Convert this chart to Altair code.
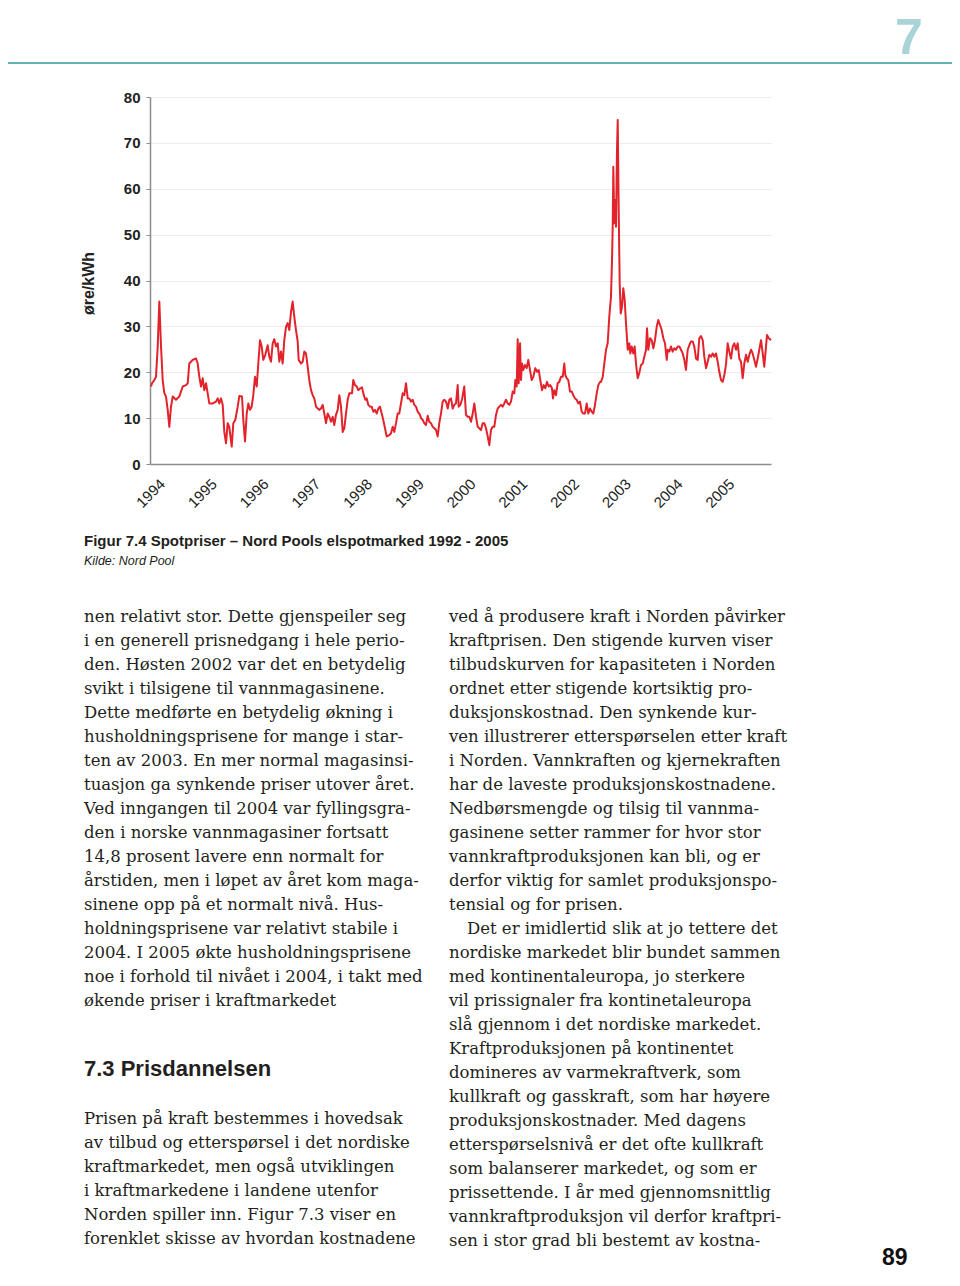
import altair as alt
import pandas as pd

# ---- data (weekly spot price, øre/kWh) ----
years = [
    1994.019, 1994.039, 1994.083, 1994.116, 1994.149, 1994.180, 1994.213, 1994.245, 1994.276, 1994.309,
    1994.342, 1994.373, 1994.406, 1994.439, 1994.502, 1994.566, 1994.632, 1994.696, 1994.729, 1994.759,
    1994.792, 1994.825, 1994.889, 1994.922, 1994.953, 1994.986, 1995.018, 1995.049, 1995.082, 1995.115,
    1995.146, 1995.212, 1995.275, 1995.308, 1995.339, 1995.372, 1995.405, 1995.436, 1995.469, 1995.501,
    1995.532, 1995.579, 1995.610, 1995.648,
    1995.695, 1995.726, 1995.778, 1995.803, 1995.836, 1995.869, 1995.900, 1995.932, 1995.965, 1995.996,
    1996.029, 1996.062, 1996.093, 1996.126, 1996.158, 1996.189, 1996.228, 1996.274, 1996.305, 1996.338,
    1996.371, 1996.402, 1996.435, 1996.468, 1996.499, 1996.531, 1996.564, 1996.595, 1996.628, 1996.661,
    1996.692, 1996.725, 1996.757, 1996.788, 1996.821, 1996.854, 1996.873, 1996.918, 1996.951, 1996.982,
    1997.014, 1997.047, 1997.078, 1997.111, 1997.144, 1997.175, 1997.208, 1997.241, 1997.271, 1997.304,
    1997.337, 1997.368, 1997.401, 1997.434, 1997.465,
    1997.498, 1997.530, 1997.561, 1997.594, 1997.627, 1997.658, 1997.691, 1997.724, 1997.755, 1997.787,
    1997.820, 1997.851, 1997.903, 1997.928, 1997.961, 1997.994, 1998.025, 1998.064, 1998.097, 1998.122,
    1998.160, 1998.187, 1998.218, 1998.251, 1998.284, 1998.315, 1998.348, 1998.381, 1998.412, 1998.444,
    1998.477, 1998.508, 1998.541, 1998.574, 1998.624, 1998.657, 1998.690, 1998.721, 1998.754, 1998.786,
    1998.817, 1998.850, 1998.883, 1998.914, 1998.947, 1998.980, 1999.011, 1999.043, 1999.076, 1999.107,
    1999.140, 1999.173, 1999.217,
    1999.237, 1999.270, 1999.300, 1999.333, 1999.366, 1999.397, 1999.430, 1999.463, 1999.494, 1999.527,
    1999.559, 1999.590, 1999.623, 1999.656, 1999.687, 1999.720, 1999.753, 1999.784, 1999.816, 1999.849,
    1999.880, 1999.913, 1999.946, 1999.965, 1999.996, 2000.029, 2000.073, 2000.106, 2000.139, 2000.170,
    2000.203, 2000.236, 2000.267, 2000.300, 2000.332, 2000.363, 2000.396, 2000.429, 2000.460, 2000.493,
    2000.526, 2000.557, 2000.589, 2000.622, 2000.653, 2000.686, 2000.719, 2000.750, 2000.783, 2000.815,
    2000.846, 2000.879, 2000.912,
    2000.943, 2000.976, 2001.009, 2001.040, 2001.059, 2001.086, 2001.105, 2001.125, 2001.150, 2001.169,
    2001.188, 2001.214, 2001.246, 2001.279, 2001.310, 2001.343, 2001.376, 2001.407, 2001.445, 2001.478,
    2001.511, 2001.542, 2001.575, 2001.608, 2001.639, 2001.671, 2001.704, 2001.735, 2001.768, 2001.787,
    2001.813, 2001.845, 2001.878, 2001.909, 2001.942, 2001.975, 2002.006, 2002.025, 2002.052, 2002.083,
    2002.116, 2002.149, 2002.180, 2002.213, 2002.245, 2002.276, 2002.309, 2002.342, 2002.373, 2002.406,
    2002.439, 2002.470, 2002.502, 2002.535, 2002.566, 2002.599, 2002.632, 2002.663, 2002.696,
    2002.715, 2002.748, 2002.779, 2002.812, 2002.844, 2002.875, 2002.908, 2002.928, 2002.941, 2002.953,
    2002.972, 2002.991, 2003.005, 2003.024, 2003.038, 2003.057, 2003.076, 2003.096, 2003.121, 2003.146,
    2003.173, 2003.198, 2003.231, 2003.262, 2003.281, 2003.308, 2003.339, 2003.366, 2003.391, 2003.424,
    2003.455, 2003.488, 2003.521, 2003.552, 2003.585, 2003.604, 2003.629, 2003.662, 2003.695, 2003.726,
    2003.758, 2003.791, 2003.822, 2003.855, 2003.888, 2003.919, 2003.952, 2003.985, 2004.004, 2004.035,
    2004.068, 2004.100, 2004.131, 2004.164, 2004.197, 2004.228, 2004.261, 2004.294, 2004.325, 2004.357,
    2004.390, 2004.435,
    2004.454, 2004.487, 2004.518, 2004.551, 2004.584, 2004.614, 2004.647, 2004.680, 2004.711, 2004.744,
    2004.777, 2004.808, 2004.841, 2004.873, 2004.904, 2004.937, 2004.970, 2005.001, 2005.034, 2005.067,
    2005.098, 2005.130, 2005.163, 2005.194, 2005.227, 2005.260, 2005.291, 2005.324, 2005.357, 2005.387,
    2005.420, 2005.453, 2005.484, 2005.517, 2005.550, 2005.581, 2005.614, 2005.646, 2005.677, 2005.710,
    2005.743, 2005.774, 2005.807, 2005.840, 2005.870, 2005.903, 2005.923, 2005.956, 2006.000,
]

prices = [
    16.9, 17.6, 18.3, 19.0, 25.6, 35.4, 25.6, 18.3, 15.5, 14.7,
    11.8, 8.1, 12.5, 14.7, 14.0, 14.7, 16.9, 17.2, 17.6, 21.9,
    22.3, 22.7, 23.0, 21.9, 19.0, 16.9, 18.7, 16.1, 17.6, 15.4,
    13.2, 13.2, 13.6, 14.3, 13.2, 14.3, 12.9, 7.0, 4.5, 8.9,
    8.1, 3.8, 8.9, 9.6,
    12.5, 14.8, 14.7, 9.6, 4.9, 11.0, 13.2, 11.8, 12.5, 15.0,
    19.0, 16.9, 21.9, 27.0, 25.6, 22.7, 23.8, 25.9, 23.4, 22.3,
    26.3, 27.2, 25.6, 26.3, 22.3, 24.5, 21.9, 27.0, 29.9, 30.7,
    29.2, 33.2, 35.4, 32.1, 29.2, 26.7, 22.7, 21.9, 22.3, 24.5,
    24.1, 21.2, 18.3, 16.1, 15.0, 14.3, 12.5, 12.1, 11.8, 12.1,
    12.9, 11.0, 8.9, 11.0, 10.3,
    9.2, 10.3, 8.5, 10.7, 11.8, 15.0, 12.5, 7.0, 7.8, 11.0,
    14.0, 15.4, 15.4, 18.3, 17.2, 16.9, 16.1, 16.5, 16.7, 15.4,
    14.0, 14.3, 12.9, 12.5, 12.5, 11.4, 11.8, 11.0, 12.1, 12.5,
    11.0, 9.6, 7.8, 6.0, 6.3, 6.7, 8.1, 7.0, 8.9, 11.0,
    11.0, 13.2, 15.4, 15.0, 17.6, 14.3, 14.3, 13.6, 14.0, 12.9,
    12.5, 11.4, 10.7,
    10.0, 9.6, 8.9, 8.5, 10.5, 9.2, 8.9, 8.1, 7.8, 7.4,
    6.0, 8.9, 11.0, 13.6, 14.0, 13.6, 12.1, 14.0, 14.3, 12.1,
    12.9, 13.2, 17.2, 12.5, 12.9, 14.0, 16.9, 10.7, 10.3, 10.3,
    9.2, 11.0, 13.2, 10.3, 8.1, 7.8, 7.4, 8.9, 8.9, 7.8,
    6.0, 4.1, 7.4, 8.1, 8.1, 10.7, 12.1, 12.5, 12.9, 12.5,
    13.2, 14.0, 13.2,
    12.9, 13.6, 15.8, 15.4, 18.3, 16.9, 27.2, 17.6, 26.3, 18.3,
    21.9, 20.5, 21.6, 20.9, 22.7, 20.5, 18.3, 19.0, 20.9, 20.1,
    20.5, 18.3, 16.1, 17.2, 16.5, 17.9, 16.9, 17.2, 16.5, 14.3,
    16.1, 15.0, 17.6, 17.9, 19.0, 19.0, 21.9, 19.4, 18.7, 18.3,
    15.8, 15.8, 15.0, 14.3, 14.0, 13.2, 13.6, 11.4, 11.0, 11.0,
    13.2, 11.0, 12.1, 11.4, 11.0, 12.9, 15.4, 17.2, 17.9,
    17.9, 19.0, 21.9, 24.9, 26.3, 32.1, 36.5, 44.5, 51.7, 64.8,
    52.5, 57.5, 51.7, 68.4, 75.0, 55.4, 39.4, 32.8, 34.3, 38.3,
    35.7, 30.7, 24.9, 26.3, 24.1, 25.6, 24.1, 25.6, 21.9, 18.7,
    19.8, 21.6, 21.9, 23.4, 24.9, 29.6, 24.9, 27.4, 27.0, 25.2,
    27.0, 29.9, 31.4, 30.3, 29.2, 27.4, 26.3, 22.7, 24.9, 24.5,
    25.6, 24.5, 25.2, 24.9, 25.6, 25.6, 24.9, 24.1, 22.7, 20.5,
    24.9, 26.3,
    26.7, 26.7, 25.6, 23.0, 22.7, 27.4, 27.9, 27.0, 23.4, 20.9,
    22.3, 23.8, 23.4, 24.1, 23.4, 24.1, 22.3, 20.1, 18.3, 17.9,
    19.4, 21.6, 26.3, 24.5, 23.0, 25.6, 26.3, 24.9, 26.3, 23.0,
    22.3, 18.7, 21.9, 23.8, 22.3, 23.8, 24.9, 24.1, 22.7, 21.2,
    23.0, 24.9, 27.0, 24.1, 21.2, 25.6, 28.1, 27.4, 27.0,
]

year_ticks = [1994, 1995, 1996, 1997, 1998, 1999, 2000, 2001, 2002, 2003, 2004, 2005]
price_ticks = [0, 10, 20, 30, 40, 50, 60, 70, 80]

y_title = "øre/kWh"
caption = "Figur 7.4 Spotpriser – Nord Pools elspotmarked 1992 - 2005"
source = "Kilde: Nord Pool"
chapter = "7"
page_no = "89"
heading = "7.3 Prisdannelsen"

left_col_1 = [
    "nen relativt stor. Dette gjenspeiler seg",
    "i en generell prisnedgang i hele perio-",
    "den. Høsten 2002 var det en betydelig",
    "svikt i tilsigene til vannmagasinene.",
    "Dette medførte en betydelig økning i",
    "husholdningsprisene for mange i star-",
    "ten av 2003. En mer normal magasinsi-",
    "tuasjon ga synkende priser utover året.",
    "Ved inngangen til 2004 var fyllingsgra-",
    "den i norske vannmagasiner fortsatt",
    "14,8 prosent lavere enn normalt for",
    "årstiden, men i løpet av året kom maga-",
    "sinene opp på et normalt nivå. Hus-",
    "holdningsprisene var relativt stabile i",
    "2004. I 2005 økte husholdningsprisene",
    "noe i forhold til nivået i 2004, i takt med",
    "økende priser i kraftmarkedet",
]
left_col_2 = [
    "Prisen på kraft bestemmes i hovedsak",
    "av tilbud og etterspørsel i det nordiske",
    "kraftmarkedet, men også utviklingen",
    "i kraftmarkedene i landene utenfor",
    "Norden spiller inn. Figur 7.3 viser en",
    "forenklet skisse av hvordan kostnadene",
]
right_col_1 = [
    "ved å produsere kraft i Norden påvirker",
    "kraftprisen. Den stigende kurven viser",
    "tilbudskurven for kapasiteten i Norden",
    "ordnet etter stigende kortsiktig pro-",
    "duksjonskostnad. Den synkende kur-",
    "ven illustrerer etterspørselen etter kraft",
    "i Norden. Vannkraften og kjernekraften",
    "har de laveste produksjonskostnadene.",
    "Nedbørsmengde og tilsig til vannma-",
    "gasinene setter rammer for hvor stor",
    "vannkraftproduksjonen kan bli, og er",
    "derfor viktig for samlet produksjonspo-",
    "tensial og for prisen.",
]
right_col_indent = ["Det er imidlertid slik at jo tettere det"]
right_col_2 = [
    "nordiske markedet blir bundet sammen",
    "med kontinentaleuropa, jo sterkere",
    "vil prissignaler fra kontinetaleuropa",
    "slå gjennom i det nordiske markedet.",
    "Kraftproduksjonen på kontinentet",
    "domineres av varmekraftverk, som",
    "kullkraft og gasskraft, som har høyere",
    "produksjonskostnader. Med dagens",
    "etterspørselsnivå er det ofte kullkraft",
    "som balanserer markedet, og som er",
    "prissettende. I år med gjennomsnittlig",
    "vannkraftproduksjon vil derfor kraftpri-",
    "sen i stor grad bli bestemt av kostna-",
]

# ---- chart ----
W, H = 621, 367
SANS = "Liberation Sans, Arial, sans-serif"
SERIF = "DejaVu Serif, serif"
TEXT = "#231f20"

df = pd.DataFrame({"year": years, "price": prices})

line = alt.Chart(df).mark_line(color="#e2232b", strokeWidth=2, strokeJoin="round").encode(
    x=alt.X(
        "year:Q",
        scale=alt.Scale(domain=[1994, 2006], nice=False, zero=False),
        axis=alt.Axis(
            values=year_ticks, format="d", title=None, grid=False, ticks=False,
            labelAngle=-45, labelAlign="right", labelBaseline="middle",
            labelPadding=17, labelOffset=12, labelFont=SANS, labelFontSize=15,
            labelColor="#222222", domainColor="#8c8c8c", domainWidth=1.5,
            labelOverlap=False,
        ),
    ),
    y=alt.Y(
        "price:Q",
        scale=alt.Scale(domain=[0, 80], nice=False),
        axis=alt.Axis(
            values=price_ticks, title=y_title, grid=True, gridColor="#ececec",
            gridWidth=1, tickSize=4, tickColor="#8c8c8c", domainColor="#8c8c8c",
            domainWidth=1.5, labelPadding=6, labelFont=SANS, labelFontSize=15,
            labelFontWeight="bold", labelColor="#222222",
            titleFont=SANS, titleFontSize=16, titleFontWeight="bold", titleColor="#222222",
            titleAngle=270, titleAlign="center", titleBaseline="middle",
            titleX=-62, titleY=186,
        ),
    ),
)


def block(lines, x, y, size, font, weight="normal", style="normal", color=TEXT, lh=24):
    return alt.Chart(pd.DataFrame({"t": ["\n".join(lines)]})).mark_text(
        align="left", baseline="alphabetic", font=font, fontSize=size,
        fontWeight=weight, fontStyle=style, color=color, lineBreak="\n", lineHeight=lh,
    ).encode(x=alt.value(x), y=alt.value(y), text="t:N")


header_rule = alt.Chart(pd.DataFrame({"a": [0]})).mark_rule(
    color="#62b3b4", strokeWidth=2
).encode(x=alt.value(-142), x2=alt.value(802), y=alt.value(-34))

layers = [
    line,
    header_rule,
    block([chapter], 745, -43, 50, SANS, weight="bold", color="#a9d4d7"),
    block([caption], -66, 449, 15, SANS, weight="bold"),
    block([source], -66, 468, 12.5, SANS, style="italic"),
    block(left_col_1, -66, 525, 16.5, SERIF),
    block([heading], -66, 979, 22, SANS, weight="bold"),
    block(left_col_2, -66, 1027, 16.5, SERIF),
    block(right_col_1, 299, 525, 16.5, SERIF),
    block(right_col_indent, 317, 837, 16.5, SERIF),
    block(right_col_2, 299, 861, 16.5, SERIF),
    block([page_no], 732, 1168, 23, SANS, weight="bold", color="#111111"),
]

chart = alt.layer(*layers).properties(
    width=W, height=H,
    padding={"left": 142, "top": 89, "right": 181, "bottom": 810},
    autosize=alt.AutoSizeParams(type="none"),
    background="white",
).configure_view(stroke=None)

chart.save("out.html", embed_options={"renderer": "svg", "actions": False})
